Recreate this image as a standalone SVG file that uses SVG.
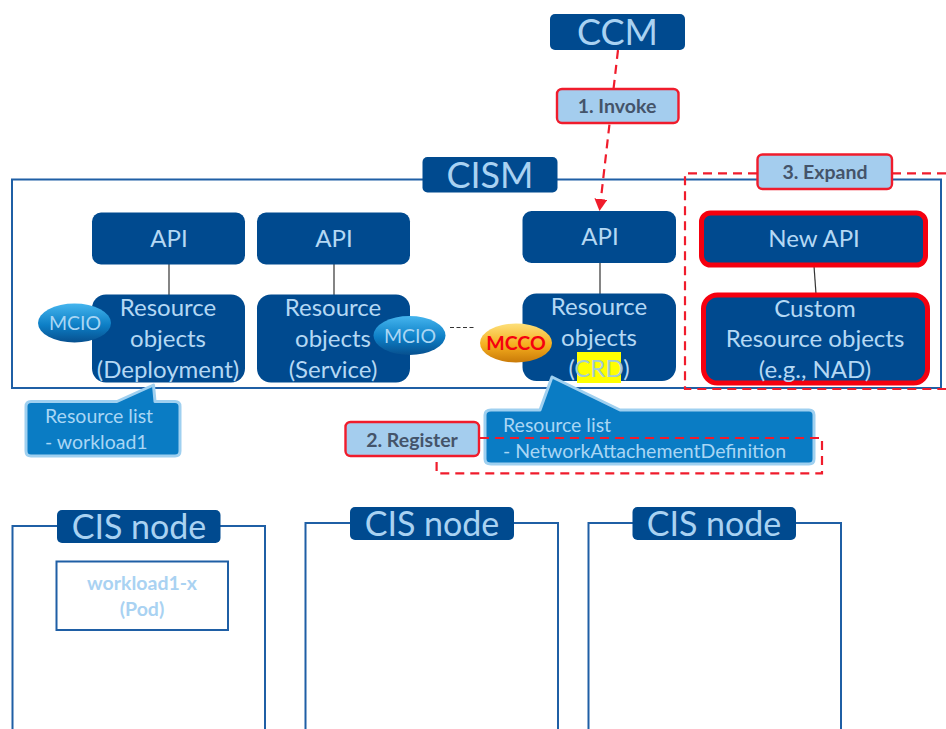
<svg xmlns="http://www.w3.org/2000/svg" width="946" height="729" viewBox="0 0 946 729">
<style>
text{font-family:Lato,"Liberation Sans",sans-serif;text-anchor:middle}
.frame{fill:none;stroke:#1f5fa5;stroke-width:2}
.box{fill:#004a8f}
.t{fill:#b4d8f4;font-size:24px}
.title{fill:#a9d2f2;font-size:36px}
.node{font-size:34px}
.step{fill:#a4cdee;stroke:#f01c2c;stroke-width:2.4}
.steptext{fill:#44546a;font-size:19.500px;font-weight:700}
.call{fill:#0a7cc4;stroke:#9fd0f0;stroke-width:3;stroke-linejoin:round}
.ct{fill:#a9d6f4;font-size:19.500px;text-anchor:start}
.link{stroke:#333;stroke-width:1.2;fill:none}
.dash{fill:none;stroke:#f01c2c;stroke-width:2.2;stroke-dasharray:9 6}
.red{fill:#004a8f;stroke:#f5000f;stroke-width:5}
.el{stroke:none}
.mt{fill:#a9d6f4;font-size:19.500px}
.pod{fill:#a9d2f2;font-size:19.500px;font-weight:700}
</style>
<defs>
<linearGradient id="blue" x1="0" y1="0" x2="0" y2="1"><stop offset="0" stop-color="#45b5ee"/><stop offset="0.55" stop-color="#0d7fc6"/><stop offset="1" stop-color="#07508f"/></linearGradient>
<linearGradient id="gold" x1="0" y1="0" x2="0" y2="1"><stop offset="0" stop-color="#fde07a"/><stop offset="0.55" stop-color="#f5ae1e"/><stop offset="1" stop-color="#c97a08"/></linearGradient>
<marker id="arrow" markerUnits="userSpaceOnUse" markerWidth="14" markerHeight="14" refX="12" refY="6.500" orient="auto"><path d="M0 0L12 6.500L0 13Z" fill="#f01c2c"/></marker>
</defs>
<rect width="946" height="729" fill="#fff"/>
<g id="cism-frame"><rect class="frame" x="12" y="179.500" width="929" height="208.500"/></g>
<g id="connectors">
<path class="link" d="M169 264V295"/>
<path class="link" d="M334 264V295"/>
<path class="link" d="M600 263V294"/>
<path class="link" d="M814 266L816 294"/>
<path class="link" d="M450 327.500H476" stroke-dasharray="4 2.500"/>
<path class="dash" d="M618 50L599.500 211" marker-end="url(#arrow)"/>
<path class="dash" d="M757 173.300H685V389H946"/>
<path class="dash" d="M892 173.300H946"/>
</g>
<g id="cism"><rect class="box" x="422.500" y="157" width="135" height="35.500" rx="5"/><text class="title" x="490" y="188">CISM</text></g>
<g id="ccm"><rect class="box" x="550" y="14" width="135" height="36" rx="5"/><text class="title" x="617.500" y="45">CCM</text></g>
<g id="invoke"><rect class="step" x="557" y="89" width="121.500" height="34" rx="5"/><text class="steptext" x="617" y="113">1. Invoke</text></g>
<g id="api1"><rect class="box" x="92" y="212.500" width="153" height="52" rx="9"/><text class="t" x="169" y="247">API</text></g>
<g id="api2"><rect class="box" x="257" y="212.500" width="153" height="52" rx="9"/><text class="t" x="334" y="247">API</text></g>
<g id="api3"><rect class="box" x="522.500" y="211" width="153.500" height="52" rx="9"/><text class="t" x="600" y="245">API</text></g>
<g id="resource1"><rect class="box" x="92" y="294.500" width="153" height="88" rx="14"/><text class="t" x="168" y="316">Resource</text><text class="t" x="168" y="347">objects</text><text class="t" x="168" y="378">(Deployment)</text></g>
<g id="resource2"><rect class="box" x="257" y="294.500" width="153" height="88" rx="14"/><text class="t" x="333" y="316">Resource</text><text class="t" x="333" y="347">objects</text><text class="t" x="333" y="378">(Service)</text></g>
<g id="resource3"><rect class="box" x="522.500" y="293.500" width="153.500" height="87.500" rx="14"/><rect x="577" y="352" width="44" height="31" fill="#ffff00"/><text class="t" x="599" y="315">Resource</text><text class="t" x="599" y="346">objects</text><text class="t" x="599" y="377">(<tspan fill="#a3cbd6">CRD</tspan>)</text></g>
<g id="new-api"><rect class="red" x="701.500" y="213" width="224" height="52" rx="9"/><text class="t" x="814" y="247">New API</text></g>
<g id="custom-resource"><rect class="red" x="703.500" y="295" width="224" height="88" rx="14"/><text class="t" x="815" y="317">Custom</text><text class="t" x="815" y="347">Resource objects</text><text class="t" x="815" y="378">(e.g., NAD)</text></g>
<g id="expand"><rect class="step" x="757.500" y="154.500" width="134.500" height="34.500" rx="5"/><text class="steptext" x="825" y="179">3. Expand</text></g>
<g id="mcio1"><ellipse class="el" cx="74.500" cy="323" rx="36.500" ry="19.500" fill="url(#blue)"/><text class="mt" x="75" y="330">MCIO</text></g>
<g id="mcio2"><ellipse class="el" cx="409.500" cy="335.500" rx="36" ry="19.500" fill="url(#blue)"/><text class="mt" x="410" y="343">MCIO</text></g>
<g id="mcco"><ellipse class="el" cx="516" cy="343" rx="36" ry="19.500" fill="url(#gold)"/><text x="516" y="350" fill="#f5000f" font-size="19.500" font-weight="700">MCCO</text></g>
<g id="list1"><path class="call" d="M31 401.500H117L153.500 385L155 401.500H175Q180 401.500 180 406.500V451Q180 456 175 456H31Q26 456 26 451V406.500Q26 401.500 31 401.500Z"/><text class="ct" x="45" y="423">Resource list</text><text class="ct" x="45" y="449">- workload1</text></g>
<g id="list2"><path class="call" d="M491 410H540L552 377L620 410H809Q814 410 814 415V459Q814 464 809 464H491Q485 464 485 459V415Q485 410 491 410Z"/><text class="ct" x="503" y="432">Resource list</text><text class="ct" x="503" y="458">- NetworkAttachementDefinition</text></g>
<g id="register-path"><path class="dash" d="M480 438H822V473.300H436.600V457"/></g>
<g id="register"><rect class="step" x="345.500" y="422" width="133.500" height="34" rx="5"/><text class="steptext" x="412" y="447">2. Register</text></g>
<g id="cis-node1"><path class="frame" d="M57 526H12.500V729M220 526H265V729"/><rect class="box" x="57" y="510" width="163.500" height="33" rx="5"/><text class="title node" x="139" y="539">CIS node</text><rect x="56.500" y="561.500" width="171.500" height="68.500" fill="#fff" stroke="#1f5fa5" stroke-width="2"/><text class="pod" x="142" y="590">workload1-x</text><text class="pod" x="142" y="616">(Pod)</text></g>
<g id="cis-node2"><path class="frame" d="M350 523H305.500V729M514 523H558V729"/><rect class="box" x="350" y="507" width="164" height="33" rx="5"/><text class="title node" x="432" y="536">CIS node</text></g>
<g id="cis-node3"><path class="frame" d="M633 523H588.500V729M796 523H841V729"/><rect class="box" x="632.500" y="507" width="163.500" height="33" rx="5"/><text class="title node" x="714" y="536">CIS node</text></g>
</svg>
